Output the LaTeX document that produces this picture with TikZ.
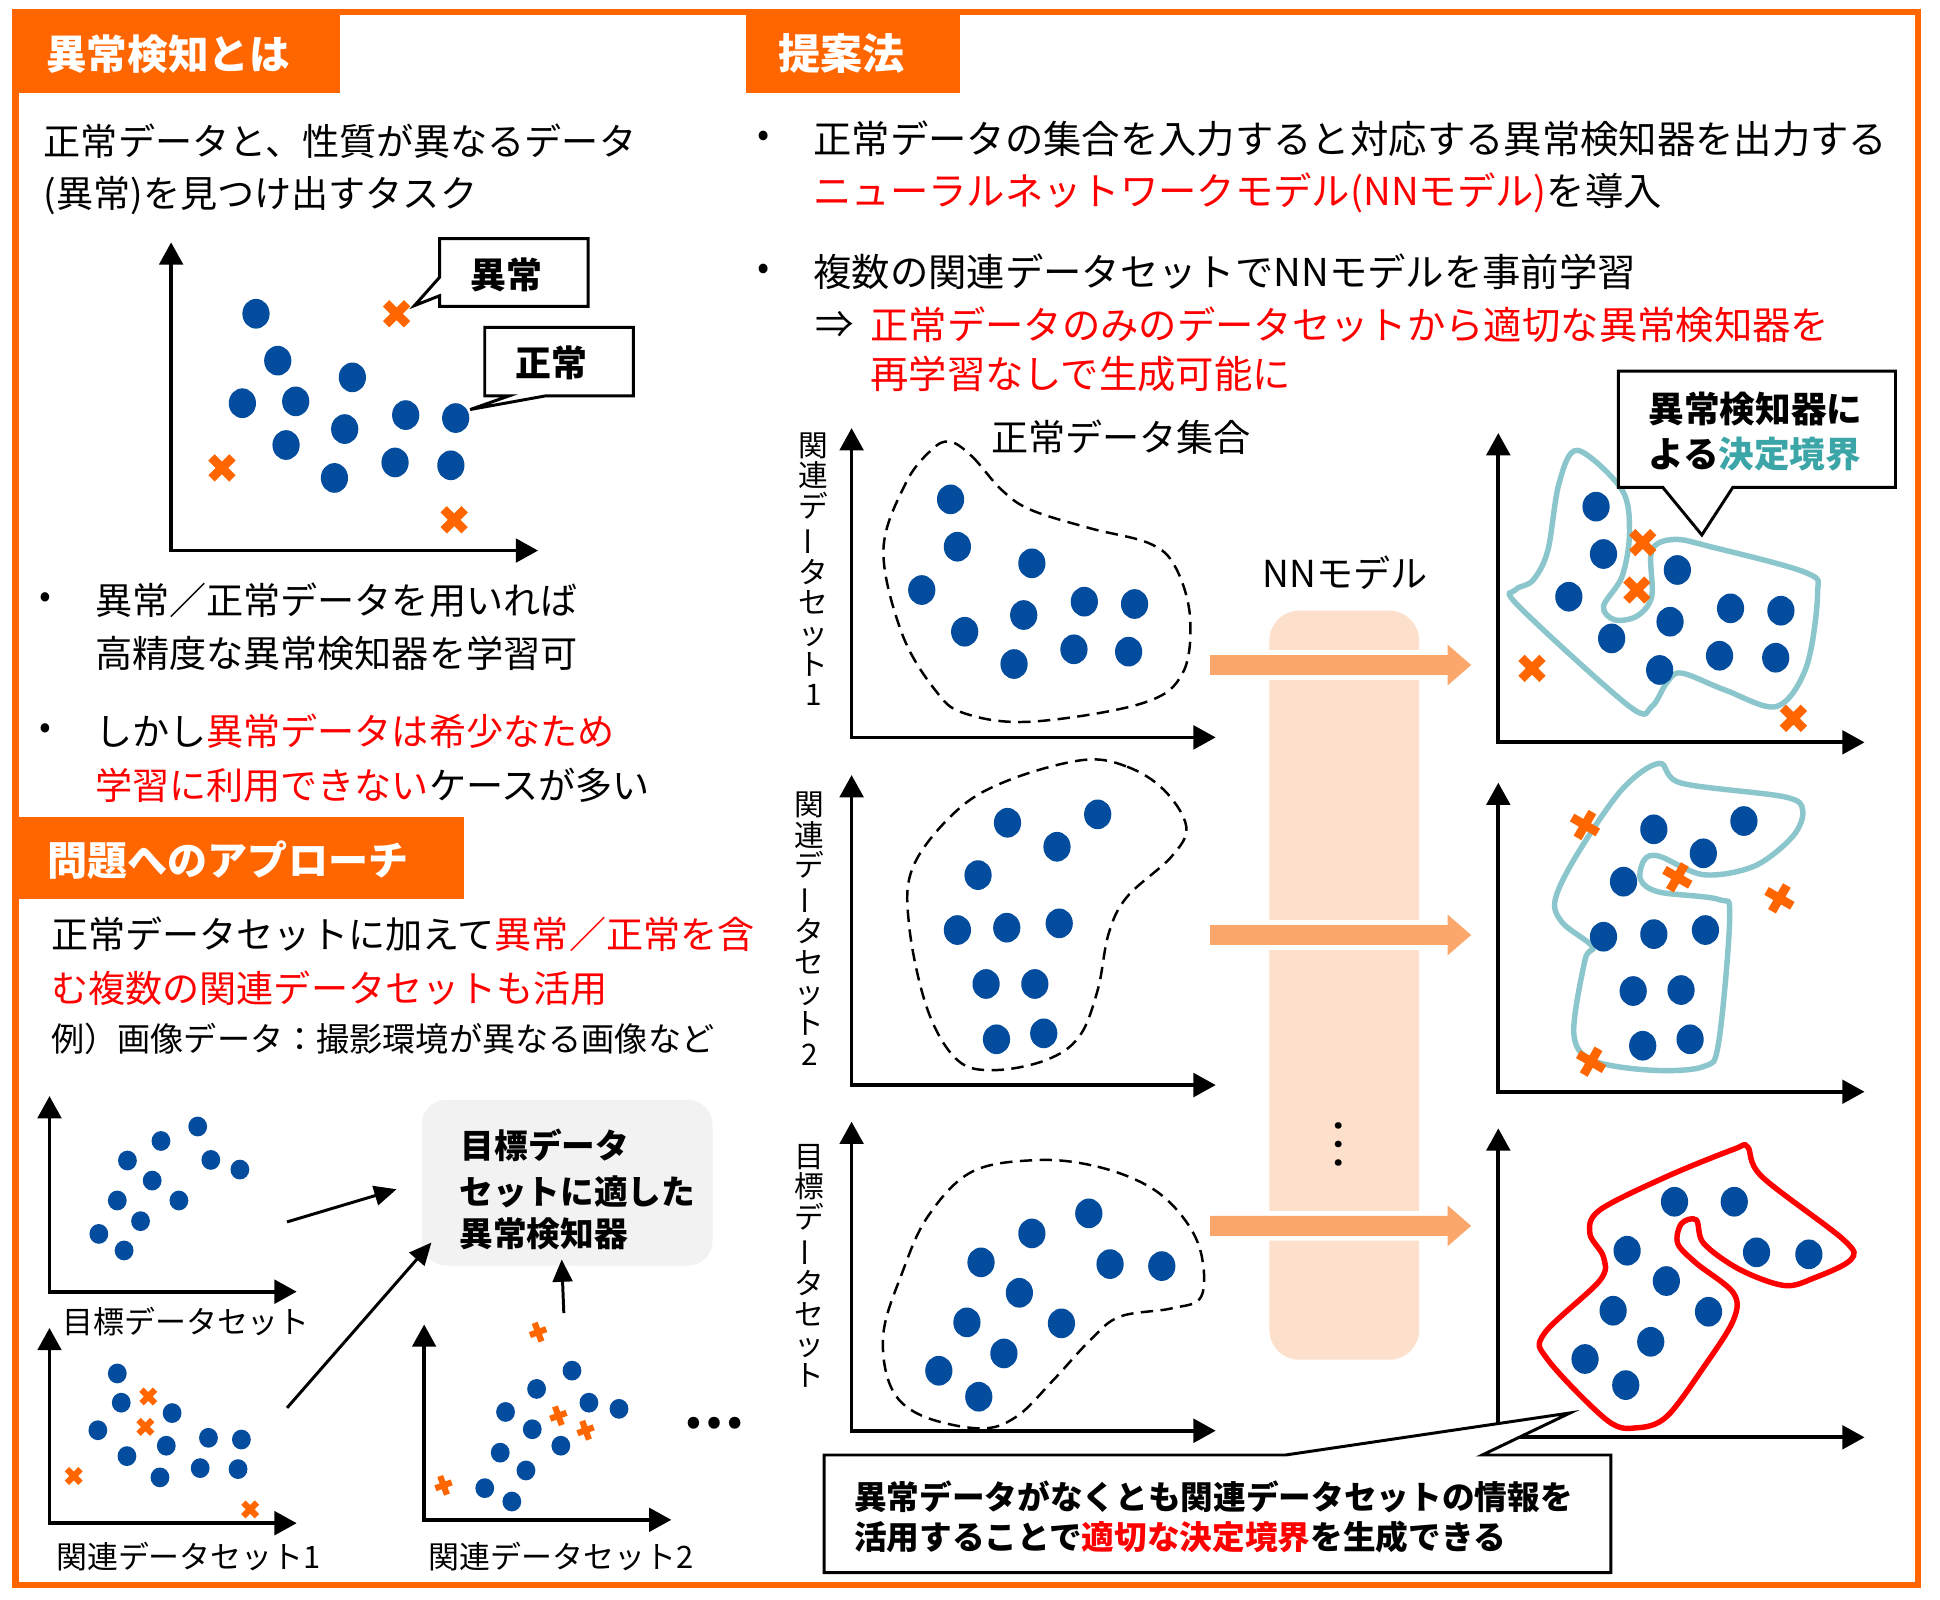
\documentclass[tikz,border=0pt]{standalone}
\usepackage{fontspec}
\setmainfont{Noto Sans CJK JP}
\usetikzlibrary{arrows.meta}
\definecolor{orng}{RGB}{255,102,0}
\definecolor{dotblue}{RGB}{4,76,158}
\definecolor{jred}{RGB}{255,0,0}
\definecolor{tealline}{RGB}{139,198,205}
\definecolor{tealtxt}{RGB}{60,165,168}
\definecolor{peach}{RGB}{253,224,203}
\definecolor{arrorng}{RGB}{251,166,106}
\definecolor{boxgray}{RGB}{242,242,242}
\newcommand\jfs[1]{\fontsize{#1pt}{#1pt}\selectfont}
\tikzset{
  txt/.style={inner sep=0pt, anchor=west, font=\jfs{15}},
  rtxt/.style={inner sep=0pt, anchor=west, font=\jfs{15.5}},
  head/.style={inner sep=0pt, anchor=west, text=white, font=\bfseries\jfs{16.4}},
  bul/.style={inner sep=0pt, anchor=center, font=\jfs{14}},
  axes/.style={line width=1.5pt, {Triangle[length=9pt,width=9.5pt]}-{Triangle[length=9pt,width=9.5pt]}},
  conn/.style={line width=1.2pt, -{Triangle[length=9pt,width=8pt]}},
  blob/.style={line width=1pt, dash pattern=on 5pt off 3pt},
  callout/.style={draw=black, line width=1.2pt, fill=white},
  vlab/.style={inner sep=0pt, align=center, font=\fontsize{12pt}{12.4pt}\selectfont},
  lab/.style={inner sep=0pt, anchor=west, font=\jfs{12.5}},
  pics/bigx/.style={code={\draw[orng, line width=3.6pt] (-8.5,-8.5)--(8.5,8.5) (-8.5,8.5)--(8.5,-8.5);}},
  pics/smallx/.style={code={\draw[orng, line width=2.5pt] (-5.5,-5.5)--(5.5,5.5) (-5.5,5.5)--(5.5,-5.5);}},
  pics/smallplus/.style={code={\draw[orng, line width=2.5pt] (0,-8)--(0,8) (-7,0)--(7,0);}},
}
\begin{document}
\begin{tikzpicture}[x=0.5pt,y=-0.5pt]
\useasboundingbox (0,0) rectangle (1568,1293);
\fill[white] (0,0) rectangle (1568,1293);

% ---------- frame and tabs ----------
\draw[orng, line width=2.5pt] (12.5,9.5) rectangle (1550.5,1281);
\fill[orng] (12.5,8) rectangle (275,75);
\fill[orng] (603,8) rectangle (776,75);
\fill[orng] (12.5,660) rectangle (375,727);
\node[head] (h1) at (37,44) {異常検知とは};
\node[head, font=\bfseries\jfs{17}] (h2) at (629,43) {提案法};
\node[head, font=\bfseries\jfs{16.2}] (h3) at (38,695) {問題へのアプローチ};

% ---------- left: what is anomaly detection ----------
\node[txt] (t1) at (35,114) {正常データと、性質が異なるデータ};
\node[txt] (t2) at (35,158) {(異常)を見つけ出すタスク};

\draw[axes] (138.3,195.9) -- (138.3,445) -- (434.9,445);
\foreach \x/\y in {206.9/253.6,224.5/291.5,284.8/305,195.9/325.9,239/324.4,278.6/346.8,231.2/359.7,327.9/335.5,368.3/337.9,270.3/386.3,319.3/373.8,364.4/376.1}
  \fill[dotblue] (\x,\y) ellipse [x radius=11, y radius=12];
\foreach \x/\y in {320.5/253.6,179.4/378.2,367.1/420.1}
  \pic at (\x,\y) {bigx};

\draw[callout] (355.4,192.9) -- (475.3,192.9) -- (475.3,247.6) -- (355.4,247.6) -- (355.4,239) -- (335,247) -- (355.4,224) -- cycle;
\node[inner sep=0, font=\bfseries\jfs{14.5}] (c1) at (409,222) {異常};
\draw[callout] (391.8,264.6) -- (512,264.6) -- (512,320) -- (440.8,320) -- (380,331) -- (411.4,320) -- (391.8,320) -- cycle;
\node[inner sep=0, font=\bfseries\jfs{14.5}] (c2) at (446,293.5) {正常};

\node[bul] (b1) at (37,485) {•};
\node[txt] (l1) at (76.4,485) {異常／正常データを用いれば};
\node[txt] (l2) at (76.4,528) {高精度な異常検知器を学習可};
\node[bul] (b2) at (37,591) {•};
\node[txt] (l3) at (76.4,591) {しかし\textcolor{jred}{異常データは希少なため}};
\node[txt] (l4) at (76.4,635) {\textcolor{jred}{学習に利用できない}ケースが多い};

% ---------- left: approach ----------
\node[txt] (l5) at (41,755) {正常データセットに加えて\textcolor{jred}{異常／正常を含}};
\node[txt] (l6) at (41,799) {\textcolor{jred}{む複数の関連データセットも活用}};
\node[txt, font=\jfs{13.4}] (l7) at (41,840) {例）画像データ：撮影環境が異なる画像など};

% target plot
\draw[axes] (40,885.9) -- (40,1044) -- (239.8,1044);
\foreach \x/\y in {159.8/910.5,130.1/922.2,103/938,170.4/937.5,193.9/945.3,123/954.2,94.8/970.3,144.6/970.3,113.6/987,79.9/997.3,100.3/1010.7}
  \fill[dotblue] (\x,\y) ellipse [x radius=7.6, y radius=8];
\node[lab] (p1) at (50,1068) {目標データセット};

% related 1
\draw[axes] (40,1073.3) -- (40,1231.1) -- (239.8,1231.1);
\foreach \x/\y in {94.8/1110.1,98/1133.7,139.1/1142.1,79.1/1156,134.4/1168.5,102.6/1176.9,168.5/1162.1,195.1/1163.5,129.3/1194.1,161.8/1186.6,192.4/1187.4}
  \fill[dotblue] (\x,\y) ellipse [x radius=7.6, y radius=8];
\foreach \x/\y in {119.9/1128.7,117.5/1153.2,59.6/1193,202.2/1220}
  \pic at (\x,\y) {smallx};
\node[lab] (p2) at (45,1258) {関連データセット1};

% related 2
\draw[axes] (342.8,1070.5) -- (342.8,1228.4) -- (542.6,1228.4);
\foreach \x/\y in {462.3/1107.8,433.7/1122.6,408.6/1141.2,476/1133.7,500.3/1138.7,430.2/1155.2,404.3/1174.1,453.3/1168.5,425.1/1188.5,391.8/1202.8,413.7/1213.6}
  \fill[dotblue] (\x,\y) ellipse [x radius=7.6, y radius=8];
\foreach \x/\y in {434.9/1076.7,451.3/1144.3,473.3/1156,358.5/1200.5}
  \pic[rotate=20] at (\x,\y) {smallplus};
\node[lab] (p3) at (346,1258) {関連データセット2};
\node[inner sep=0, font=\bfseries\jfs{22}] (dots) at (577,1150) {…};

% goal box
\node[fill=boxgray, rounded corners=10pt, minimum width=117.5pt, minimum height=67pt, inner sep=0] (goal) at (458.4,955.9) {};
\node[inner sep=0, anchor=west, font=\bfseries\jfs{13.6}] (g1) at (372,926) {目標データ};
\node[inner sep=0, anchor=west, font=\bfseries\jfs{13.6}] (g2) at (371,963) {セットに適した};
\node[inner sep=0, anchor=west, font=\bfseries\jfs{13.6}] (g3) at (371,997) {異常検知器};

\coordinate (a1s) at (232,987.6);  \coordinate (a1e) at (320.5,961.2);
\coordinate (a2s) at (232,1137.9); \coordinate (a2e) at (348.7,1004.3);
\coordinate (a3s) at (455.7,1061.3); \coordinate (a3e) at (454,1018);
\draw[conn] (a1s) -- (a1e);
\draw[conn] (a2s) -- (a2e);
\draw[conn] (a3s) -- (a3e);

% ---------- right: proposed ----------
\node[bul, font=\jfs{14.5}] (rb1) at (617,112) {•};
\node[rtxt] (r1) at (657,112) {正常データの集合を入力すると対応する異常検知器を出力する};
\node[rtxt] (r2) at (657,156) {\textcolor{jred}{ニューラルネットワークモデル(NNモデル)}を導入};
\node[bul, font=\jfs{14.5}] (rb2) at (617,219.6) {•};
\node[rtxt] (r3) at (657,219.6) {複数の関連データセットでNNモデルを事前学習};
\node[rtxt] (r4) at (659,262.7) {⇒};
\node[rtxt, text=jred] (r5) at (703,262.7) {正常データのみのデータセットから適切な異常検知器を};
\node[rtxt, text=jred] (r6) at (703,302) {再学習なしで生成可能に};

% NN model column
\fill[peach, rounded corners=12pt] (1026,493.6) rectangle (1147,1099);
\node[inner sep=0, font=\jfs{15}] (nn) at (1087,463) {NNモデル};
\node[inner sep=0, font=\jfs{20}, rotate=90] (vd) at (1082,926) {…};

% input plots
\draw[axes] (688.3,346) -- (688.3,596) -- (982.6,596);
\draw[axes] (688.3,626.4) -- (688.3,877) -- (982.6,877);
\draw[axes] (688.3,906.6) -- (688.3,1156.4) -- (982.6,1156.4);
\node[vlab] (v1) at (657.3,460) {関\\連\\デ\\\rotatebox[origin=c]{90}{ー}\\タ\\セ\\ッ\\ト\\1};
\node[vlab] (v2) at (654.5,750.5) {関\\連\\デ\\\rotatebox[origin=c]{90}{ー}\\タ\\セ\\ッ\\ト\\2};
\node[vlab] (v3) at (654.5,1023) {目\\標\\デ\\\rotatebox[origin=c]{90}{ー}\\タ\\セ\\ッ\\ト};
\node[txt] (setlab) at (800.6,353) {正常データ集合};

\draw[blob] plot[smooth cycle, tension=0.6] coordinates {(767.8,357) (785.7,369) (809.6,396) (833.4,412.2) (881.2,427) (929,439.2) (949.8,458) (961.8,498.4) (955.8,544.2) (923,568.5) (833.4,583.3) (779.7,576.6) (755.8,557.7) (729,512) (714,444.6) (732,390.7) (752.8,363.7)};
\draw[blob] plot[smooth cycle, tension=0.6] coordinates {(875.2,614.3) (911,619.7) (940.8,638.5) (958.8,668.2) (946.8,692.4) (911,724.8) (896.1,754.4) (887.2,800.2) (872.2,837.9) (845.4,856.8) (803.6,864.9) (773.8,856.8) (749.8,816.4) (734.9,749) (738,700.5) (773.8,654.7) (815.5,630.5)};
\draw[blob] plot[smooth cycle, tension=0.6] coordinates {(839.4,937.6) (887.2,943) (929,959.2) (955.8,983.4) (970.8,1013) (970.8,1048.1) (946.8,1057.5) (905,1064.2) (881.2,1083.1) (851.4,1115.4) (821.4,1145.1) (791.6,1154.5) (743.9,1143.7) (720,1120.8) (714,1077.7) (729,1029.2) (749.8,983.4) (785.7,947)};

\foreach \x/\y in {768.3/403.6,773.8/441.9,834/455.3,745/476.9,876.4/486.3,917/488.2,827.4/497.1,779.7/510.6,868/524.8,912.2/526.7,819.6/536.7,
  814.3/665,887.2/658.2,854.3/684.4,790.5/707.3,773.8/751.7,813.7/749.8,856.1/746.3,797/795.3,836.4/795.3,805.4/840,843.6/835.2,
  880/980.7,834/996.9,792.9/1020.3,897.2/1021.7,939/1023.3,823.9/1044.9,781.5/1068.8,857.9/1069.6,811.4/1093.9,758.8/1107.9,791.1/1128.9}
  \fill[dotblue] (\x,\y) ellipse [x radius=11, y radius=12];

% big arrows through the model
\foreach \y in {537.5,755.7,990.8}{
  \path[draw=white, line width=4pt, fill=white] (978,\y-8) -- (1170,\y-8) -- (1170,\y-16.5) -- (1189,\y) -- (1170,\y+16.5) -- (1170,\y+8) -- (978,\y+8) -- cycle;
  \fill[arrorng] (978,\y-8) -- (1170,\y-8) -- (1170,\y-16.5) -- (1189,\y) -- (1170,\y+16.5) -- (1170,\y+8) -- (978,\y+8) -- cycle;
}

% output plots
\draw[axes] (1211,350) -- (1211,600) -- (1507,600);
\draw[axes] (1211,632.6) -- (1211,882.4) -- (1507,882.4);
\draw[axes] (1211,912) -- (1211,1161.7) -- (1507,1161.7);

\draw[tealline, line width=2.2pt] plot[smooth cycle, tension=0.55] coordinates {(1275,364) (1311,396) (1317,431) (1311,466) (1296,490) (1305,501) (1323,498) (1335,482) (1335,445) (1353,436) (1383,442) (1460,463) (1469,480) (1460,539) (1436,571) (1395,558) (1359,544) (1347,552) (1335,571) (1317,571) (1227.5,490) (1224.5,477) (1239,469) (1251,445) (1260,391)};
\draw[tealline, line width=2.2pt] plot[smooth cycle, tension=0.55] coordinates {(1341,617) (1359,633) (1442,644) (1457,655) (1449,676) (1418,700) (1377,707) (1341,692) (1329,695) (1326,711) (1341,721) (1389,727) (1398,741) (1389,843) (1377,862) (1335,865) (1287,857) (1272,835) (1281,776) (1287,765) (1263,746) (1257,727) (1275,690) (1311,638)};

% bottom callout (covers the axis corner)
\draw[callout] (666,1176) -- (1039,1176) -- (1269,1142) -- (1198,1176) -- (1302,1176) -- (1302,1271) -- (666,1271) -- cycle;
\node[inner sep=0, anchor=west, font=\bfseries\jfs{13.2}] (m1) at (690,1210) {異常データがなくとも関連データセットの情報を};
\node[inner sep=0, anchor=west, font=\bfseries\jfs{13.2}] (m2) at (690,1242) {活用することで\textcolor{jred}{適切な決定境界}を生成できる};

\draw[jred, line width=2.2pt] plot[smooth cycle, tension=0.55] coordinates {(1412.5,927) (1424,951) (1490,1002) (1496,1018) (1466,1033) (1442,1039) (1406,1026) (1377,1005) (1371,986) (1359,989) (1356,1005) (1371,1021) (1401,1045) (1401,1067) (1377,1105) (1347,1145) (1323,1154) (1299,1148) (1251,1099) (1248,1078) (1293,1035) (1296,1016) (1285,997) (1293,978) (1347,951) (1401,929)};

\foreach \x/\y in {1290/409.5,1296/447.8,1355.7/460.7,1268/482.3,1398.7/491.7,1439.4/493.6,1349.8/502.5,1302.6/516,1389.8/530,1435.2/531.6,1341.4/541.5,
  1336.7/670.3,1409.5/663.6,1376.7/689.7,1312.2/712.6,1296/757.1,1336.7/755,1378.4/751.7,1320/801,1358.7/800.2,1327.7/845.2,1366/840,
  1353.4/971.3,1401.7/971.3,1315.1/1010.9,1419.7/1012.2,1462/1013.8,1346.8/1035.4,1303.8/1059.4,1380.9/1060.2,1334.2/1084.5,1281.1/1098.4,1314/1119.5}
  \fill[dotblue] (\x,\y) ellipse [x radius=11, y radius=12];
\foreach \x/\y in {1327.7/438.6,1323/476.9,1238.2/540.2,1449.5/580.6}
  \pic at (\x,\y) {bigx};
\foreach \x/\y in {1281/666.8,1355.7/709.1,1438.2/726.1,1286/858.1}
  \pic[rotate=15] at (\x,\y) {bigx};

% top-right callout
\draw[callout] (1308,300) -- (1532,300) -- (1532,394) -- (1400.5,394) -- (1375.5,432.4) -- (1344,394) -- (1308,394) -- cycle;
\node[inner sep=0, anchor=west, font=\bfseries\jfs{14.4}] (k1) at (1332,331) {異常検知器に};
\node[inner sep=0, anchor=west, font=\bfseries\jfs{14.4}] (k2) at (1332,367) {よる\textcolor{tealtxt}{決定境界}};

\end{tikzpicture}
\end{document}
